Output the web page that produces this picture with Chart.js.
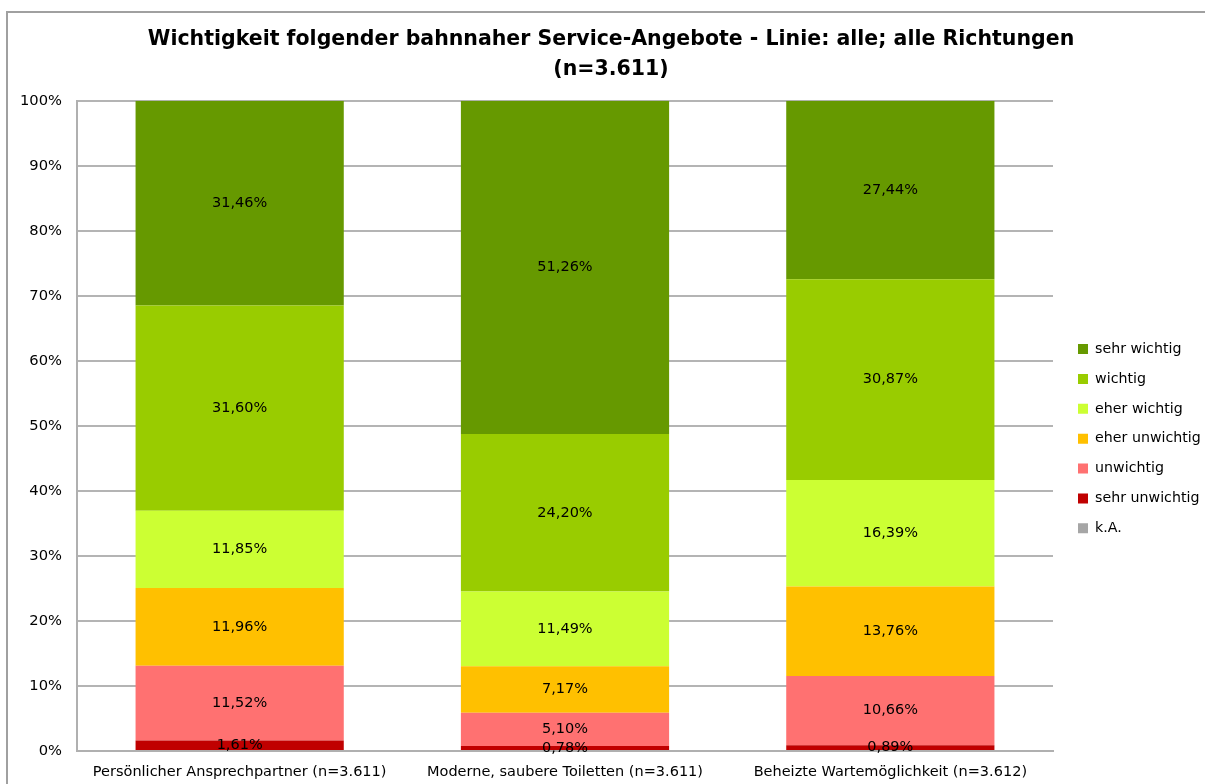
<!DOCTYPE html>
<html>
<head>
<meta charset="utf-8">
<script src="https://cdn.jsdelivr.net/npm/chart.js@4"></script>
<style>
  html, body { margin: 0; padding: 0; background: #fff; overflow: hidden; }
  #wrap { width: 1205px; height: 784px; }
  canvas { display: block; }
</style>
</head>
<body>
<div id="wrap"><canvas id="myChart" width="1205" height="784"></canvas></div>
<script>
const categories = [
    "Persönlicher Ansprechpartner (n=3.611)",
    "Moderne, saubere Toiletten (n=3.611)",
    "Beheizte Wartemöglichkeit (n=3.612)"
];
const keineAngabe = [0, 0, 0];
const sehrUnwichtig = [1.61, 0.78, 0.89];
const unwichtig = [11.52, 5.10, 10.66];
const eherUnwichtig = [11.96, 7.17, 13.76];
const eherWichtig = [11.85, 11.49, 16.39];
const wichtig = [31.60, 24.20, 30.87];
const sehrWichtig = [31.46, 51.26, 27.44];
const yTicks = [0, 10, 20, 30, 40, 50, 60, 70, 80, 90, 100];

const fontFamily = "'DejaVu Sans', Verdana, sans-serif";
const legendPad = 15.67;

// frame around the whole chart (left + top edge)
const framePlugin = {
    id: "frame",
    beforeDraw(chart) {
        const c = chart.ctx;
        c.save();
        c.strokeStyle = "#a0a0a0";
        c.lineWidth = 2;
        c.beginPath();
        c.moveTo(7, 790);
        c.lineTo(7, 12);
        c.lineTo(1210, 12);
        c.stroke();
        c.restore();
    }
};

// value labels in the middle of each segment
const valueLabels = {
    id: "valueLabels",
    afterDatasetsDraw(chart) {
        const c = chart.ctx;
        c.save();
        c.font = "14.5px " + fontFamily;
        c.fillStyle = "#000";
        c.textAlign = "center";
        c.textBaseline = "middle";
        chart.data.datasets.forEach((ds, i) => {
            chart.getDatasetMeta(i).data.forEach((bar, j) => {
                const v = ds.data[j];
                if (!v) return;
                const y = (bar.y + bar.base) / 2;
                c.fillText(v.toFixed(2).replace(".", ",") + "%", bar.x, y);
            });
        });
        c.restore();
    }
};

// fixed legend width, then place the legend items where the original has them
const legendPlace = {
    id: "legendPlace",
    beforeLayout(chart) {
        const lg = chart.legend;
        if (lg && !lg._fixed) {
            const fit = lg.fit.bind(lg);
            lg.fit = function () {
                fit();
                this.width = 152;
            };
            lg._fixed = true;
        }
    },
    afterLayout(chart) {
        const lg = chart.legend;
        if (!lg) return;
        lg.left = 1078 - legendPad;
        lg.top = 349 - 7 - legendPad;
    }
};

new Chart(document.getElementById("myChart"), {
    type: "bar",
    data: {
        labels: categories,
        datasets: [
            { label: "k.A.", data: keineAngabe, backgroundColor: "#A6A6A6" },
            { label: "sehr unwichtig", data: sehrUnwichtig, backgroundColor: "#C00000" },
            { label: "unwichtig", data: unwichtig, backgroundColor: "#FF7171" },
            { label: "eher unwichtig", data: eherUnwichtig, backgroundColor: "#FFC000" },
            { label: "eher wichtig", data: eherWichtig, backgroundColor: "#CCFF33" },
            { label: "wichtig", data: wichtig, backgroundColor: "#99CC00" },
            { label: "sehr wichtig", data: sehrWichtig, backgroundColor: "#669900" }
        ]
    },
    options: {
        responsive: false,
        animation: false,
        layout: { padding: { left: 17, right: 0, top: 0, bottom: 2 } },
        datasets: { bar: { barPercentage: 0.64, categoryPercentage: 1, borderWidth: 0 } },
        scales: {
            x: {
                stacked: true,
                afterFit(scale) {
                    scale.height = 31;
                },
                grid: { display: false, drawTicks: false },
                border: { color: "#b0b0b0", width: 2 },
                ticks: { color: "#000", padding: 13, font: { family: fontFamily, size: 14.5 } }
            },
            y: {
                stacked: true,
                min: 0,
                max: 100,
                afterBuildTicks(scale) {
                    scale.ticks = yTicks.map((v) => ({ value: v }));
                },
                afterFit(scale) {
                    scale.width = 60;
                },
                grid: { color: "#b4b4b4", lineWidth: 2, drawTicks: false },
                border: { color: "#b0b0b0", width: 2 },
                ticks: {
                    color: "#000",
                    padding: 15,
                    font: { family: fontFamily, size: 14.7 },
                    callback: (v) => v + "%"
                }
            }
        },
        plugins: {
            title: {
                display: true,
                text: [
                    "Wichtigkeit folgender bahnnaher Service-Angebote - Linie: alle; alle Richtungen",
                    "(n=3.611)"
                ],
                color: "#000",
                font: { family: fontFamily, size: 20.5, weight: "bold", lineHeight: 1.46 },
                padding: { top: 25, bottom: 16 }
            },
            legend: {
                position: "right",
                align: "start",
                reverse: true,
                labels: {
                    color: "#000",
                    boxWidth: 10,
                    boxHeight: 10,
                    padding: legendPad,
                    font: { family: fontFamily, size: 14.2 }
                }
            },
            tooltip: { enabled: false }
        }
    },
    plugins: [framePlugin, valueLabels, legendPlace]
});
</script>
</body>
</html>
